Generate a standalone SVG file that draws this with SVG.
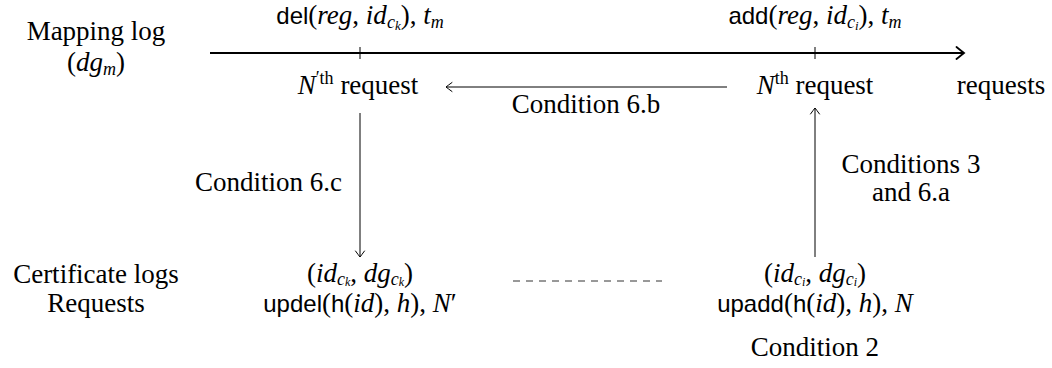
<svg xmlns="http://www.w3.org/2000/svg" width="1052" height="368" viewBox="0 0 1052 368">
<defs>
<marker id="ah" viewBox="-8 -6 10 12" markerWidth="10" markerHeight="12" refX="0" refY="0" orient="auto" markerUnits="userSpaceOnUse">
<path d="M-6,-4.5 Q-1.5,-1.2 0,0 Q-1.5,1.2 -6,4.5" fill="none" stroke="#000" stroke-width="1" stroke-linecap="round"/>
</marker>
<marker id="ahb" viewBox="-10 -7 12 14" markerWidth="12" markerHeight="14" refX="0" refY="0" orient="auto" markerUnits="userSpaceOnUse">
<path d="M-7.5,-6 Q-2,-1.5 0,0 Q-2,1.5 -7.5,6" fill="none" stroke="#000" stroke-width="1.8" stroke-linecap="round"/>
</marker>
</defs>

<g id="mapping-log">
<text x="96" y="40" text-anchor="middle" font-family="'Liberation Serif', 'Times New Roman', Times, serif" font-size="27">Mapping log</text>
<text x="96" y="71" text-anchor="middle" font-family="'Liberation Serif', 'Times New Roman', Times, serif" font-size="27">(<tspan font-style="italic">dg</tspan><tspan font-style="italic" font-size="18" dy="4">m</tspan><tspan dy="-4">)</tspan></text>
</g>

<g id="connectors" stroke="#000" stroke-width="1" fill="none">
<line x1="210" y1="53" x2="964" y2="53" stroke-width="1.8" marker-end="url(#ahb)"/>
<line x1="360" y1="47" x2="360" y2="59"/>
<line x1="815" y1="47" x2="815" y2="59"/>
<line x1="727" y1="87" x2="446" y2="87" marker-end="url(#ah)"/>
<line x1="360" y1="113" x2="360" y2="257" marker-end="url(#ah)"/>
<line x1="815" y1="257" x2="815" y2="108" marker-end="url(#ah)"/>
<line x1="513" y1="281" x2="662" y2="281" stroke-dasharray="7,6" stroke="#333"/>
</g>

<g id="del-label">
<text x="360" y="24" text-anchor="middle" font-family="'Liberation Serif', 'Times New Roman', Times, serif" font-size="27"><tspan font-family="'Liberation Sans', Arial, sans-serif" font-size="24">del</tspan>(<tspan font-style="italic">reg</tspan>, <tspan font-style="italic">id</tspan><tspan font-style="italic" font-size="18" dy="4">c</tspan><tspan font-style="italic" font-size="13" dy="2">k</tspan><tspan dy="-6">), </tspan><tspan font-style="italic">t</tspan><tspan font-style="italic" font-size="18" dy="4">m</tspan></text>
</g>

<g id="add-label">
<text x="815" y="24" text-anchor="middle" font-family="'Liberation Serif', 'Times New Roman', Times, serif" font-size="27"><tspan font-family="'Liberation Sans', Arial, sans-serif" font-size="24">add</tspan>(<tspan font-style="italic">reg</tspan>, <tspan font-style="italic">id</tspan><tspan font-style="italic" font-size="18" dy="4">c</tspan><tspan font-style="italic" font-size="13" dy="2">i</tspan><tspan dy="-6">), </tspan><tspan font-style="italic">t</tspan><tspan font-style="italic" font-size="18" dy="4">m</tspan></text>
</g>

<g id="nprime-request">
<text x="358" y="94" text-anchor="middle" font-family="'Liberation Serif', 'Times New Roman', Times, serif" font-size="27"><tspan font-style="italic">N</tspan><tspan font-size="18" dy="-10">′th</tspan><tspan dy="10"> request</tspan></text>
</g>

<g id="n-request">
<text x="815" y="94" text-anchor="middle" font-family="'Liberation Serif', 'Times New Roman', Times, serif" font-size="27"><tspan font-style="italic">N</tspan><tspan font-size="18" dy="-10">th</tspan><tspan dy="10"> request</tspan></text>
</g>

<g id="requests-axis">
<text x="1001" y="94" text-anchor="middle" font-family="'Liberation Serif', 'Times New Roman', Times, serif" font-size="27">requests</text>
</g>

<g id="cond-6b">
<text x="586" y="113" text-anchor="middle" font-family="'Liberation Serif', 'Times New Roman', Times, serif" font-size="27">Condition 6.b</text>
</g>

<g id="cond-6c">
<text x="342" y="191" text-anchor="end" font-family="'Liberation Serif', 'Times New Roman', Times, serif" font-size="27">Condition 6.c</text>
</g>

<g id="cond-3-6a">
<text x="911" y="173" text-anchor="middle" font-family="'Liberation Serif', 'Times New Roman', Times, serif" font-size="27">Conditions 3</text>
<text x="911" y="201" text-anchor="middle" font-family="'Liberation Serif', 'Times New Roman', Times, serif" font-size="27">and 6.a</text>
</g>

<g id="row-labels">
<text x="96" y="283" text-anchor="middle" font-family="'Liberation Serif', 'Times New Roman', Times, serif" font-size="27">Certificate logs</text>
<text x="96" y="312" text-anchor="middle" font-family="'Liberation Serif', 'Times New Roman', Times, serif" font-size="27">Requests</text>
</g>

<g id="cert-k">
<text x="360" y="282" text-anchor="middle" font-family="'Liberation Serif', 'Times New Roman', Times, serif" font-size="27">(<tspan font-style="italic">id</tspan><tspan font-style="italic" font-size="18" dy="3">c</tspan><tspan font-style="italic" font-size="12" dy="1">k</tspan><tspan dy="-4">, </tspan><tspan font-style="italic">dg</tspan><tspan font-style="italic" font-size="18" dy="3">c</tspan><tspan font-style="italic" font-size="12" dy="1">k</tspan><tspan dy="-4">)</tspan></text>
<text x="360" y="312" text-anchor="middle" font-family="'Liberation Serif', 'Times New Roman', Times, serif" font-size="27"><tspan font-family="'Liberation Sans', Arial, sans-serif" font-size="24">updel</tspan>(<tspan font-family="'Liberation Sans', Arial, sans-serif" font-size="24">h</tspan>(<tspan font-style="italic">id</tspan>), <tspan font-style="italic">h</tspan>), <tspan font-style="italic">N</tspan>′</text>
</g>

<g id="cert-i">
<text x="815" y="282" text-anchor="middle" font-family="'Liberation Serif', 'Times New Roman', Times, serif" font-size="27">(<tspan font-style="italic">id</tspan><tspan font-style="italic" font-size="18" dy="3">c</tspan><tspan font-style="italic" font-size="12" dy="1">i</tspan><tspan dy="-4">, </tspan><tspan font-style="italic">dg</tspan><tspan font-style="italic" font-size="18" dy="3">c</tspan><tspan font-style="italic" font-size="12" dy="1">i</tspan><tspan dy="-4">)</tspan></text>
<text x="815" y="312" text-anchor="middle" font-family="'Liberation Serif', 'Times New Roman', Times, serif" font-size="27"><tspan font-family="'Liberation Sans', Arial, sans-serif" font-size="24">upadd</tspan>(<tspan font-family="'Liberation Sans', Arial, sans-serif" font-size="24">h</tspan>(<tspan font-style="italic">id</tspan>), <tspan font-style="italic">h</tspan>), <tspan font-style="italic">N</tspan></text>
<text x="815" y="356" text-anchor="middle" font-family="'Liberation Serif', 'Times New Roman', Times, serif" font-size="27">Condition 2</text>
</g>
</svg>
